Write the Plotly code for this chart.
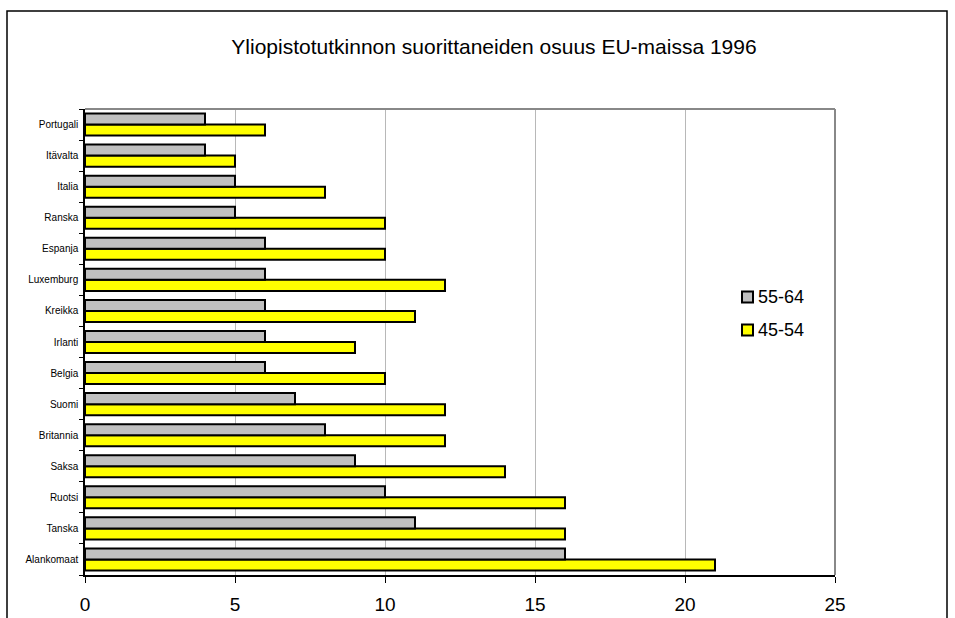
import plotly.graph_objects as go

# Countries listed bottom-to-top as they appear on the axis
countries = ["Alankomaat", "Tanska", "Ruotsi", "Saksa", "Britannia", "Suomi",
             "Belgia", "Irlanti", "Kreikka", "Luxemburg", "Espanja", "Ranska",
             "Italia", "Itävalta", "Portugali"]
age_55_64 = [16, 11, 10, 9, 8, 7, 6, 6, 6, 6, 6, 5, 5, 4, 4]
age_45_54 = [21, 16, 16, 14, 12, 12, 10, 9, 11, 12, 10, 10, 8, 5, 6]
x_ticks = [0, 5, 10, 15, 20, 25]

FONT = "Liberation Sans, Arial, sans-serif"
GRAY = "#c0c0c0"
YELLOW = "#ffff00"

fig = go.Figure()
fig.add_trace(go.Bar(
    y=countries, x=age_45_54, orientation="h", name="45-54",
    marker=dict(color=YELLOW, line=dict(color="#000000", width=2)),
    showlegend=False,
))
fig.add_trace(go.Bar(
    y=countries, x=age_55_64, orientation="h", name="55-64",
    marker=dict(color=GRAY, line=dict(color="#000000", width=2)),
    showlegend=False,
))

L, R, T, B = 85, 835, 109, 575
W, H = 955, 618
pw, ph = R - L, B - T


def px(x):
    return (x - L) / pw


def py(y):
    return (B - y) / ph


shapes = [
    # plot area frame (top and right edges)
    dict(type="line", xref="paper", yref="paper", x0=0, x1=1, y0=1, y1=1,
         line=dict(color="#888888", width=2)),
    dict(type="line", xref="paper", yref="paper", x0=1, x1=1, y0=0, y1=1,
         line=dict(color="#888888", width=2)),
    # outer chart border
    dict(type="rect", xref="paper", yref="paper",
         x0=px(7), x1=px(947), y0=py(640), y1=py(11),
         line=dict(color="black", width=1.5), layer="below"),
]
annotations = []

# compact legend: small swatch followed closely by the label
legend_items = [("55-64", GRAY), ("45-54", YELLOW)]
for i, (label, color) in enumerate(legend_items):
    cy = 297 + 33 * i
    shapes.append(dict(type="rect", xref="paper", yref="paper",
                       x0=px(742), x1=px(753), y0=py(cy + 5.5), y1=py(cy - 5.5),
                       fillcolor=color, line=dict(color="black", width=2)))
    annotations.append(dict(text=label, xref="paper", yref="paper",
                            x=px(756), y=py(cy), xanchor="left", yanchor="middle",
                            showarrow=False,
                            font=dict(size=18, family=FONT, color="black")))

fig.update_layout(
    width=W, height=H,
    margin=dict(l=L, r=W - R, t=T, b=H - B, autoexpand=False),
    paper_bgcolor="white", plot_bgcolor="white",
    barmode="group", bargap=0.29, bargroupgap=0,
    font=dict(family=FONT, color="black"),
    title=dict(text="Yliopistotutkinnon suorittaneiden osuus EU-maissa 1996",
               x=494 / W, xanchor="center", y=1 - 47 / H, yanchor="middle",
               font=dict(size=21, family=FONT, color="black")),
    showlegend=False,
    xaxis=dict(range=[0, 25], tickvals=x_ticks, ticks="outside", ticklen=6,
               tickcolor="black", tickwidth=1,
               showline=True, linecolor="black", linewidth=1.5,
               showgrid=True, gridcolor="#b8b8b8", gridwidth=1,
               zeroline=False, tickfont=dict(size=19, family=FONT),
               ticklabelstandoff=5, automargin=False, fixedrange=True),
    yaxis=dict(type="category", categoryorder="array", categoryarray=countries,
               tickson="boundaries", ticks="outside", ticklen=4,
               tickcolor="black", showline=True, linecolor="black",
               linewidth=1.5, showgrid=False, ticklabelstandoff=3,
               automargin=False,
               tickfont=dict(size=10, family=FONT), fixedrange=True),
    shapes=shapes,
    annotations=annotations,
)

fig.write_html("out.html")
